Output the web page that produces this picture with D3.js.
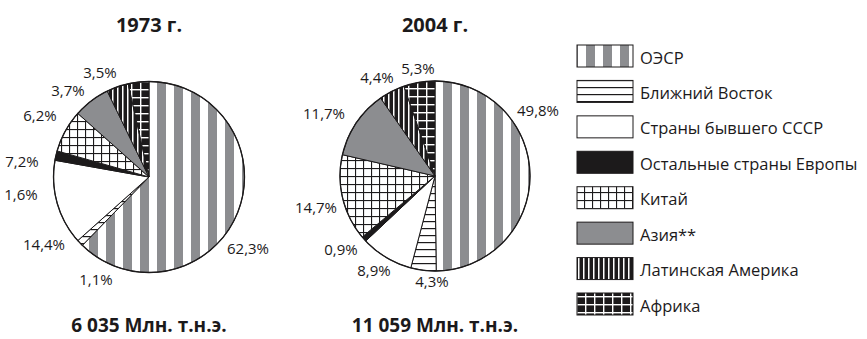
<!DOCTYPE html>
<html>
<head>
<meta charset="utf-8">
<script src="https://cdn.jsdelivr.net/npm/d3@7"></script>
<style>
  html, body { margin: 0; padding: 0; background: #fff; }
  svg { display: block; font-family: "Open Sans", "DejaVu Sans", sans-serif; }
</style>
</head>
<body>
<svg id="chart" width="867" height="339"></svg>
<script>
// Regions of the world (order of slices, clockwise from 12 o'clock)
const regions = [
  "ОЭСР",
  "Ближний Восток",
  "Страны бывшего СССР",
  "Остальные страны Европы",
  "Китай",
  "Азия**",
  "Латинская Америка",
  "Африка"
];
// Shares of world total primary energy supply, %
const share1973 = [62.3, 1.1, 14.4, 1.6, 7.2, 6.2, 3.7, 3.5];
const share2004 = [49.8, 4.3, 8.9, 0.9, 14.7, 11.7, 4.4, 5.3];
const years = ["1973 г.", "2004 г."];
const totals = ["6 035 Млн. т.н.э.", "11 059 Млн. т.н.э."];

// Fill pattern ids per region
const fills = ["oecd", "mideast", "ussr", "europe", "china", "asia", "latam", "africa"];

// Label anchors (offset from pie centre) for each slice's percentage
const labelPos1973 = [[99, 71], [-53, 102], [-105, 67], [-128, 17], [-127, -16], [-109, -62], [-81, -87], [-49, -105]];
const labelPos2004 = [[103, -66], [-3, 105], [-61, 94], [-94, 73], [-119, 31], [-111, -63], [-58, -99], [-17, -108]];

const svg = d3.select("#chart");
const defs = svg.append("defs");
const GRAY = "#8c8d90";
const INK = "#1c1a1b";

function pat(id, w, h, draw) {
  const p = defs.append("pattern").attr("id", id)
    .attr("patternUnits", "userSpaceOnUse")
    .attr("width", w).attr("height", h);
  draw(p);
}
pat("oecd", 17, 10, p => {
  p.append("rect").attr("width", 17).attr("height", 10).attr("fill", "#fff");
  p.append("rect").attr("x", 8).attr("width", 9).attr("height", 10).attr("fill", GRAY);
});
pat("mideast", 10, 7, p => {
  p.append("rect").attr("width", 10).attr("height", 7).attr("fill", "#fff");
  p.append("rect").attr("y", 3).attr("width", 10).attr("height", 1.2).attr("fill", INK);
});
pat("ussr", 10, 10, p => {
  p.append("rect").attr("width", 10).attr("height", 10).attr("fill", "#fff");
});
pat("europe", 10, 10, p => {
  p.append("rect").attr("width", 10).attr("height", 10).attr("fill", INK);
});
pat("china", 8, 8, p => {
  p.append("rect").attr("width", 8).attr("height", 8).attr("fill", "#fff");
  p.append("rect").attr("width", 1.1).attr("height", 8).attr("fill", INK);
  p.append("rect").attr("width", 8).attr("height", 1.1).attr("fill", INK);
});
pat("asia", 10, 10, p => {
  p.append("rect").attr("width", 10).attr("height", 10).attr("fill", GRAY);
});
pat("latam", 5, 40, p => {
  p.append("rect").attr("width", 5).attr("height", 40).attr("fill", INK);
  p.append("rect").attr("x", 3).attr("width", 1.5).attr("height", 40).attr("fill", "#fff");
});
pat("africa", 9, 8, p => {
  p.append("rect").attr("width", 9).attr("height", 8).attr("fill", INK);
  p.append("rect").attr("x", 0).attr("width", 1.4).attr("height", 8).attr("fill", "#fff");
  p.append("rect").attr("y", 0).attr("width", 9).attr("height", 1.4).attr("fill", "#fff");
});

const pie = d3.pie().sort(null).value(d => d);
const fmt = v => d3.format(".1f")(v).replace(".", ",") + "%";

function drawPie(cx, cy, r, values, labelPos, year, total) {
  const g = svg.append("g").attr("transform", `translate(${cx},${cy})`);
  const arc = d3.arc().innerRadius(0).outerRadius(r);
  const arcs = pie(values);

  g.selectAll("path.slice")
    .data(arcs)
    .join("path")
    .attr("class", "slice")
    .attr("d", arc)
    .attr("fill", (d, i) => `url(#${fills[i]})`)
    .attr("stroke", INK)
    .attr("stroke-width", 1)
    .attr("stroke-linejoin", "round");

  g.append("circle").attr("r", r).attr("fill", "none")
    .attr("stroke", INK).attr("stroke-width", 1.3);

  g.selectAll("text.pct")
    .data(arcs)
    .join("text")
    .attr("class", "pct")
    .attr("x", (d, i) => labelPos[i][0])
    .attr("y", (d, i) => labelPos[i][1])
    .attr("text-anchor", "middle")
    .attr("dominant-baseline", "central")
    .attr("font-size", 15)
    .attr("fill", INK)
    .text(d => fmt(d.data));

  svg.append("text")
    .attr("x", cx).attr("y", 32)
    .attr("text-anchor", "middle")
    .attr("font-size", 20).attr("font-weight", "bold").attr("fill", INK)
    .text(year);

  svg.append("text")
    .attr("x", cx).attr("y", 332)
    .attr("text-anchor", "middle")
    .attr("font-size", 19).attr("font-weight", "bold").attr("fill", INK)
    .text(total);
}

drawPie(149, 177, 95.5, share1973, labelPos1973, years[0], totals[0]);
drawPie(435, 176, 95, share2004, labelPos2004, years[1], totals[1]);

// Legend
const legendY = d3.scalePoint().domain(regions).range([56, 304]);
const lg = svg.append("g");
const items = lg.selectAll("g.item").data(regions).join("g").attr("class", "item");
items.append("rect")
  .attr("x", 577).attr("y", d => legendY(d) - 11)
  .attr("width", 56).attr("height", 22)
  .attr("fill", (d, i) => `url(#${fills[i]})`)
  .attr("stroke", INK).attr("stroke-width", 1);
items.append("text")
  .attr("x", 640).attr("y", d => legendY(d) + 1)
  .attr("dominant-baseline", "central")
  .attr("font-size", 16.5).attr("fill", INK)
  .text(d => d);
</script>
</body>
</html>
